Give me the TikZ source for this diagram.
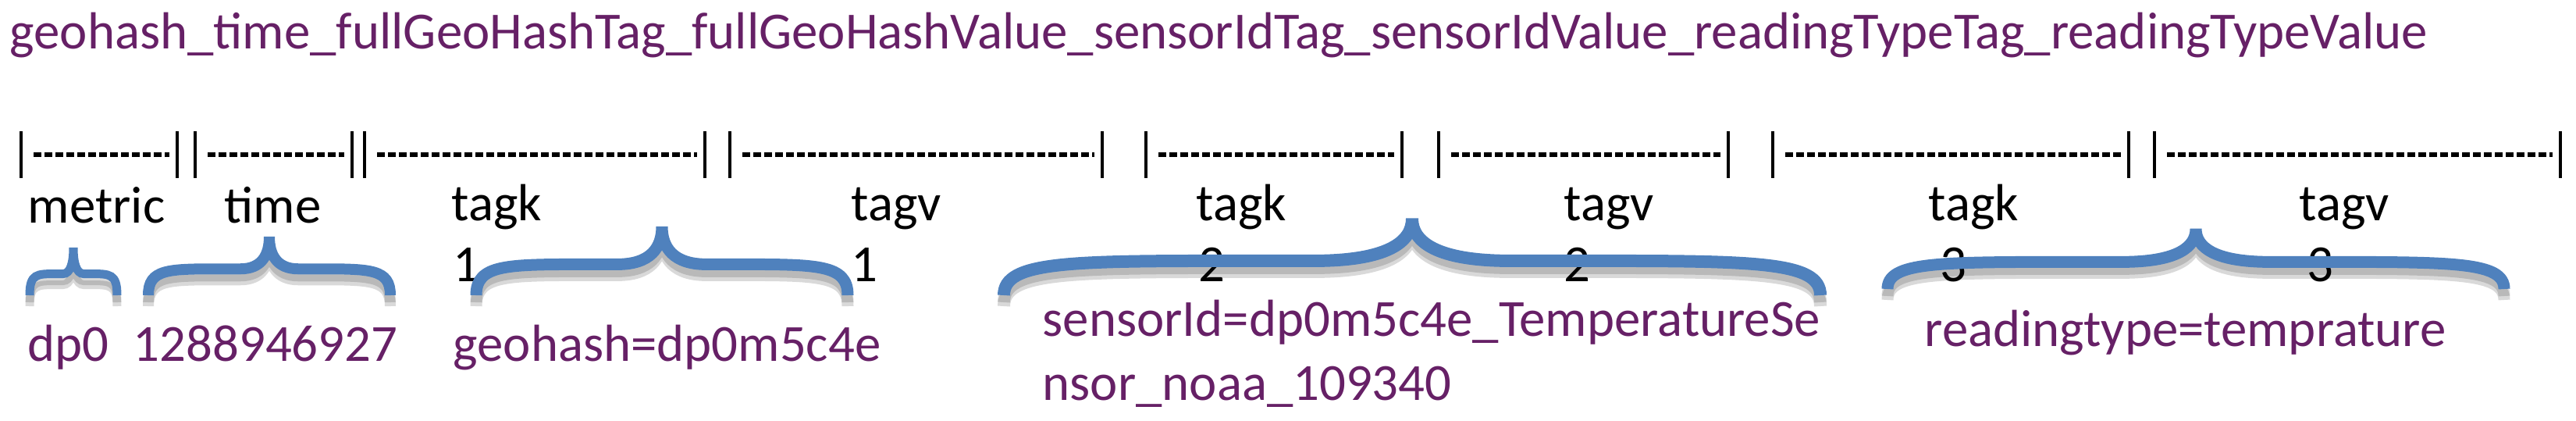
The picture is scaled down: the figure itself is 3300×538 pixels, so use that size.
\documentclass[tikz,border=0pt]{standalone}
\usepackage{fontspec}
\setmainfont{Carlito}
\definecolor{pur}{RGB}{102,32,102}
\definecolor{bbl}{RGB}{79,129,189}
\newcommand\mybrace[5]{% x1 x2 ytop ybot width
  \pgfmathsetmacro\xa{#1}\pgfmathsetmacro\xb{#2}\pgfmathsetmacro\xm{(#1+#2)/2}
  \pgfmathsetmacro\w{#2-#1}\pgfmathsetmacro\ym{#4-0.45*(#4-#3)}
  \pgfmathsetmacro\yq{\ym-0.45*(\ym-#3)}
  \foreach \dy/\col/\op in {14/black/0.15,9/black/0.15,0/bbl/1}{
  \draw[line width=#5*0.01cm,\col,opacity=\op,yshift=-\dy*0.01cm]
    (\xa,#4) .. controls (\xa,\ym) and (\xa+0.08*\w,\ym) .. (\xa+0.3*\w,\ym)
    -- (\xm-0.12*\w,\ym) .. controls (\xm-0.03*\w,\ym) and (\xm,\yq) .. (\xm,#3)
    .. controls (\xm,\yq) and (\xm+0.03*\w,\ym) .. (\xm+0.12*\w,\ym)
    -- (\xb-0.3*\w,\ym) .. controls (\xb-0.08*\w,\ym) and (\xb,\ym) .. (\xb,#4);}
}
\begin{document}
\begin{tikzpicture}[x=0.01cm,y=-0.01cm,
  every node/.style={inner sep=0pt,font=\fontsize{19}{23}\selectfont},
  lbl/.style={anchor=base west},
  val/.style={anchor=base west,text=pur},
  bar/.style={line width=0.045cm},
  dsh/.style={line width=0.06cm,dash pattern=on 0.1cm off 0.04cm}]
\useasboundingbox (0,0) rectangle (3300,538);
\node[val] (title) at (12,62) {geohash\_time\_fullGeoHashTag\_fullGeoHashValue\_sensorIdTag\_sensorIdValue\_readingTypeTag\_readingTypeValue};
\foreach \x in {27,227,250,451,467,903,935,1412,1468,1796,1843,2214,2271,2727,2760,3280}
  \draw[bar] (\x,168) -- (\x,228);
\foreach \a/\b in {27/227,250/451,467/903,935/1412,1468/1796,1843/2214,2271/2727,2760/3280}
  \draw[dsh] (\a+16,198) -- (\b-10,198);
\node[lbl] (m) at (35,285) {metric};
\node[lbl] (t) at (287,285) {time};
\node[lbl] (k1) at (578,282) {tagk};
\node[lbl] (v1) at (1090,282) {tagv};
\node[lbl] (k2) at (1532,282) {tagk};
\node[lbl] (v2) at (2003,282) {tagv};
\node[lbl] (k3) at (2470,282) {tagk};
\node[lbl] (v3) at (2945,282) {tagv};
\node[lbl] (n1) at (580,360) {1};
\node[lbl] (n2) at (1090,360) {1};
\node[lbl] (n3) at (1535,360) {2};
\node[lbl] (n4) at (2003,360) {2};
\node[lbl] (n5) at (2485,360) {3};
\node[lbl] (n6) at (2955,360) {3};
\mybrace{38}{150}{317}{378}{11}
\mybrace{190}{500}{303}{378}{14}
\mybrace{610}{1086}{290}{378}{15}
\mybrace{1286}{2332}{280}{378}{16}
\mybrace{2418}{3208}{293}{370}{15}
\node[val] (d1) at (35,462) {dp0};
\node[val] (d2) at (170,462) {1288946927};
\node[val] (d3) at (580,462) {geohash=dp0m5c4e};
\node[val] (d4) at (1335,430) {sensorId=dp0m5c4e\_TemperatureSe};
\node[val] (d5) at (1335,512) {nsor\_noaa\_109340};
\node[val] (d6) at (2465,443) {readingtype=temprature};
\end{tikzpicture}
\end{document}
